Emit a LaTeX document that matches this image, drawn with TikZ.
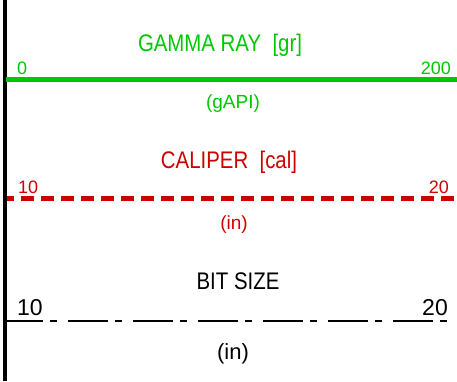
\documentclass[tikz,border=0pt]{standalone}
\usepackage{fontspec}
\setmainfont{Liberation Sans}
\newfontfamily\narrowsans[FakeStretch=0.85]{Liberation Sans}
\begin{document}
\begin{tikzpicture}[x=1pt, y=-1pt,
		title/.style={anchor=base, inner sep=0pt, font=\narrowsans\fontsize{24}{24}\selectfont},
		unit/.style={anchor=base, inner sep=0pt, font=\fontsize{19}{19}\selectfont},
		scalemin/.style={anchor=base west, inner sep=0pt, font=\fontsize{18}{18}\selectfont},
		scalemax/.style={anchor=base east, inner sep=0pt, font=\fontsize{18}{18}\selectfont}]
				\definecolor{grgreen}{RGB}{0, 200, 0}
				\definecolor{calred}{RGB}{204, 0, 0}
				\useasboundingbox (0,0) rectangle (457,381);
				% track edge
				\coordinate (edgetop) at (4.5,0);
				\coordinate (edgebot) at (4.5,381);
				\draw[line width=4pt] (edgetop) -- (edgebot);
				% gamma ray
				\coordinate (grL) at (6,79.5);
				\coordinate (grR) at (457,79.5);
				\draw[grgreen, line width=4.5pt] (grL) -- (grR);
				\node[title, grgreen] (grname) at (220,51) {GAMMA RAY\ \ [gr]};
				\node[scalemin, grgreen] (grmin) at (17,74) {0};
				\node[scalemax, grgreen] (grmax) at (451,74) {200};
				\node[unit, grgreen] (grunit) at (233,108) {(gAPI)};
				% caliper
				\coordinate (calL) at (7,198.5);
				\coordinate (calR) at (457,198.5);
				\draw[calred, line width=5.5pt, dash pattern=on 12.5pt off 7.5pt, dash phase=6pt] (calL) -- (calR);
				\node[title, calred] (calname) at (229,168) {CALIPER\ \ [cal]};
				\node[scalemin, calred] (calmin) at (18,193) {10};
				\node[scalemax, calred] (calmax) at (449,193) {20};
				\node[unit, calred] (calunit) at (234,229) {(in)};
				% bit size
				\coordinate (bsL) at (6,321);
				\coordinate (bsR) at (457,321);
				\draw[line width=1.4pt, dash pattern=on 40pt off 7pt on 7pt off 11pt, dash phase=3pt] (bsL) -- (bsR);
				\node[title] (bsname) at (238,289) {BIT SIZE};
				\node[scalemin, font=\fontsize{23}{23}\selectfont] (bsmin) at (17,315) {10};
				\node[scalemax, font=\fontsize{23}{23}\selectfont] (bsmax) at (448,315) {20};
				\node[unit, font=\fontsize{22}{22}\selectfont] (bsunit) at (233,359) {(in)};
			\end{tikzpicture}
\end{document}
